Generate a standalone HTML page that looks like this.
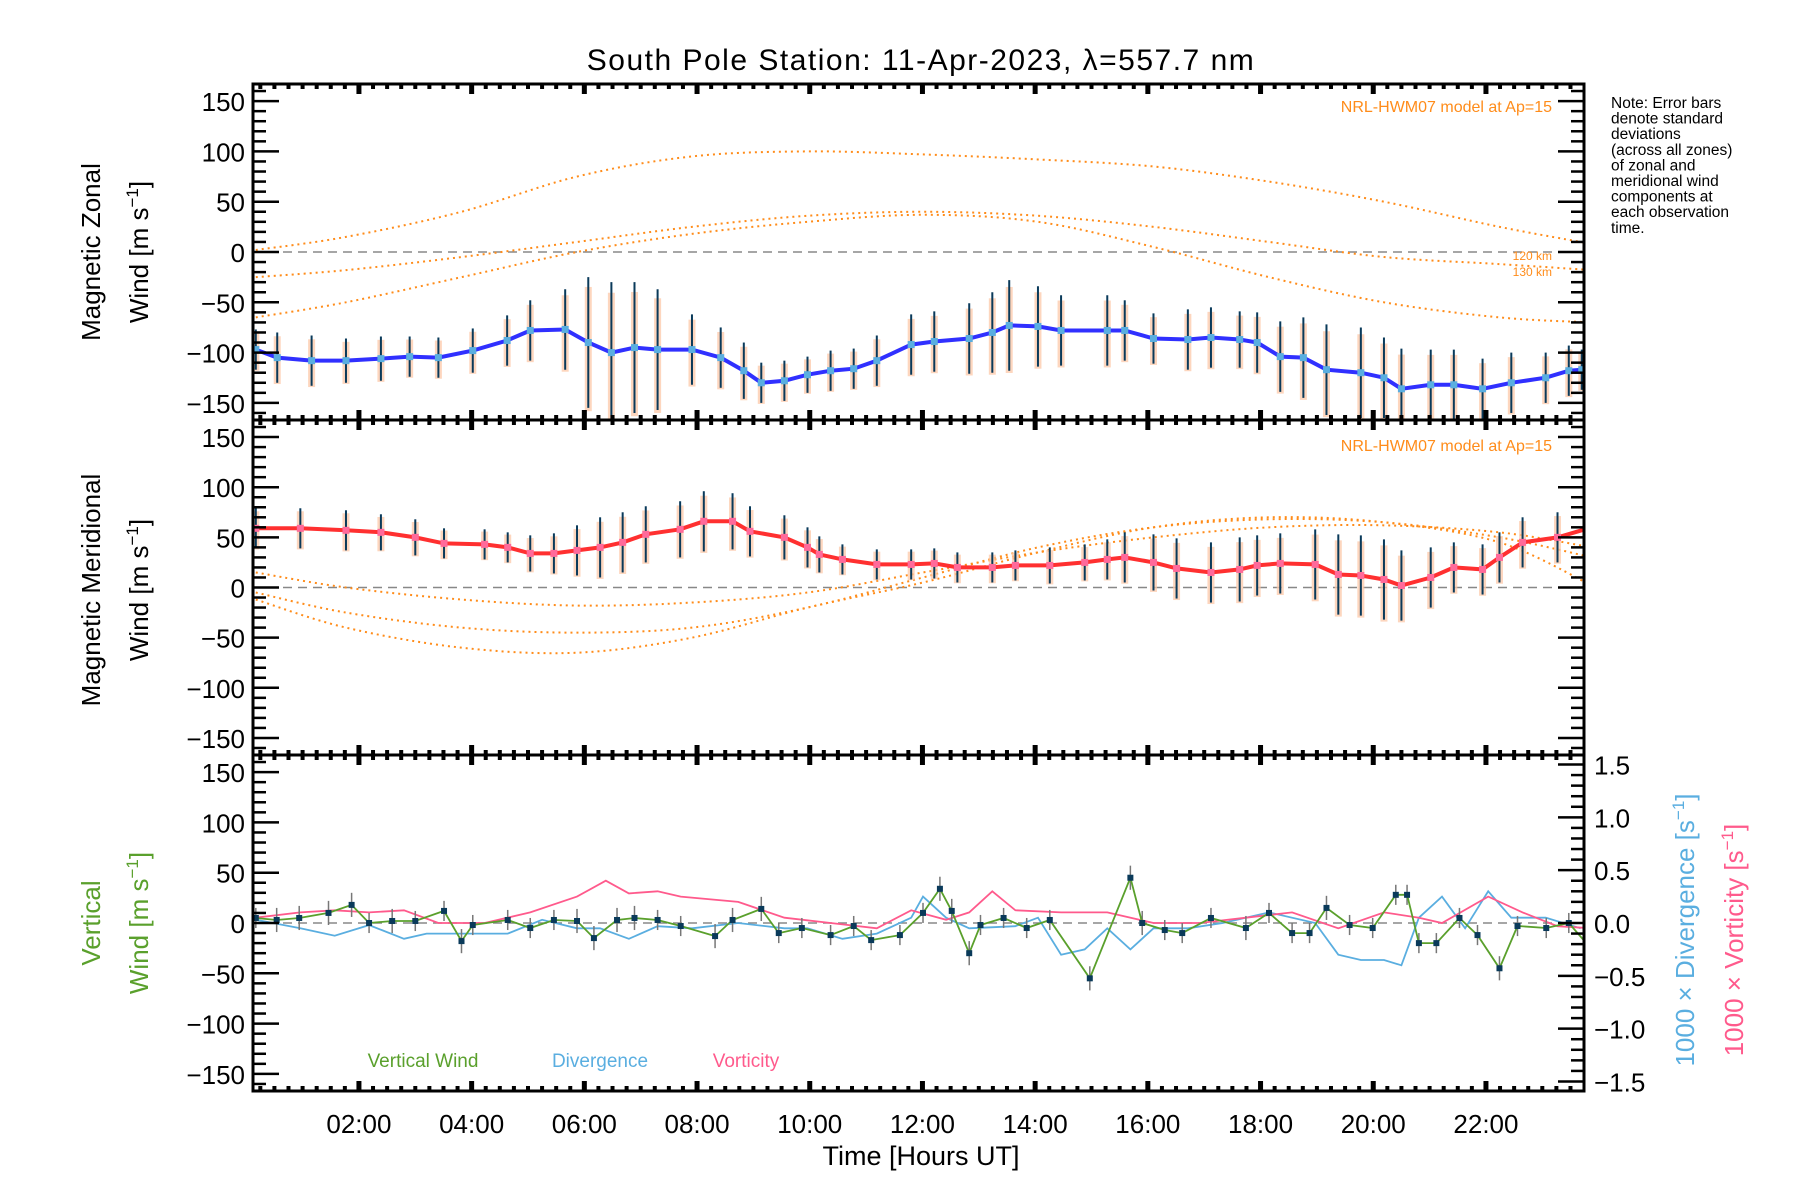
<!DOCTYPE html>
<html><head><meta charset="utf-8"><style>
html,body{margin:0;padding:0;background:#fff;}
svg{display:block;font-family:"Liberation Sans",sans-serif;}
</style></head><body>
<svg id="chart" width="1800" height="1200" viewBox="0 0 1800 1200" xmlns="http://www.w3.org/2000/svg">
<defs><clipPath id="plotclip"><rect x="253" y="84" width="1331" height="1007"/></clipPath></defs>
<text x="921" y="70" font-size="30" text-anchor="middle" letter-spacing="1.5">South Pole Station: 11-Apr-2023, λ=557.7 nm</text>
<g id="data" clip-path="url(#plotclip)"></g>
<g id="layer"></g>
</svg>
<script>
// ---- data (times in hours UT) ----
const zonalTimes=[0.17,0.55,1.16,1.77,2.39,2.9,3.41,4.02,4.63,5.04,5.66,6.07,6.48,6.89,7.3,7.91,8.42,8.83,9.14,9.55,9.96,10.37,10.78,11.19,11.8,12.21,12.83,13.24,13.54,14.05,14.46,15.28,15.59,16.1,16.71,17.12,17.63,17.94,18.35,18.76,19.17,19.78,20.19,20.5,21.02,21.43,21.94,22.45,23.06,23.47,23.7];
const zonalValues=[-97,-105,-108,-108,-106,-104,-105,-98,-88,-78,-77,-90,-100,-95,-97,-97,-105,-118,-130,-128,-122,-118,-116,-108,-92,-89,-86,-80,-73,-74,-78,-78,-78,-86,-87,-85,-87,-90,-104,-105,-117,-120,-125,-136,-132,-132,-136,-130,-125,-118,-117];
const zonalStd=[20,25,25,22,22,20,20,22,25,30,40,65,70,65,60,35,30,28,20,20,18,20,20,25,30,30,35,40,45,40,35,35,30,25,30,30,28,30,35,40,45,45,40,40,35,35,30,30,25,25,20];
const meridTimes=[0.17,0.96,1.77,2.39,3.0,3.51,4.23,4.64,5.04,5.46,5.87,6.28,6.68,7.09,7.7,8.12,8.63,8.94,9.55,9.96,10.17,10.58,11.19,11.8,12.21,12.62,13.24,13.65,14.26,14.88,15.28,15.59,16.1,16.51,17.12,17.63,17.94,18.35,18.97,19.38,19.78,20.19,20.5,21.02,21.43,21.94,22.24,22.65,23.27,23.88];
const meridValues=[59,59,57,55,50,44,43,40,34,34,37,40,45,53,58,66,66,56,50,40,33,28,23,23,24,20,20,22,22,25,28,30,25,19,15,18,22,24,23,13,12,8,2,10,20,18,30,45,50,60];
const meridStd=[20,20,20,18,18,15,15,15,18,20,25,30,30,28,28,30,28,25,22,20,18,15,15,15,15,15,15,15,18,18,20,25,28,30,30,32,30,30,35,40,40,40,35,30,25,25,25,25,25,25];
const vertTimes=[0.17,0.54,0.94,1.46,1.87,2.18,2.59,3.0,3.51,3.82,4.02,4.64,5.04,5.46,5.87,6.17,6.58,6.89,7.3,7.71,8.32,8.63,9.14,9.45,9.86,10.37,10.78,11.09,11.6,12.01,12.31,12.52,12.83,13.03,13.44,13.85,14.26,14.97,15.69,15.9,16.3,16.61,17.12,17.74,18.15,18.56,18.87,19.17,19.58,19.99,20.4,20.6,20.81,21.12,21.53,21.85,22.24,22.56,23.07,23.47,23.78];
const vertValues=[5,3,5,10,18,0,2,2,12,-18,-2,3,-5,3,2,-15,3,5,3,-3,-13,3,14,-10,-5,-12,-3,-17,-12,10,34,12,-30,-2,5,-5,3,-55,45,0,-7,-10,5,-5,10,-10,-10,15,-2,-5,28,28,-20,-20,5,-12,-45,-3,-5,0,-20];
const vertStd=[10,12,12,12,12,10,12,10,10,12,10,10,10,10,12,12,12,12,10,10,12,12,12,10,10,10,10,10,10,10,12,12,12,10,10,10,10,12,12,12,10,10,10,12,10,10,10,12,10,10,10,10,10,10,10,10,12,10,10,10,12];
const divTimes=[0.17,0.96,1.57,2.18,2.8,3.2,3.82,4.64,5.25,5.87,6.28,6.79,7.3,7.91,8.73,9.55,9.96,10.58,11.19,11.8,12.01,12.42,12.83,13.65,14.05,14.46,14.88,15.28,15.69,16.1,16.71,17.33,18.15,18.97,19.38,19.78,20.19,20.5,20.81,21.22,21.63,22.04,22.45,23.06,23.68];
const divValues=[0.03,-0.05,-0.12,-0.02,-0.15,-0.10,-0.10,-0.10,0.03,-0.05,-0.05,-0.15,-0.03,-0.05,0.0,-0.05,-0.05,-0.15,-0.10,0.05,0.25,0.05,-0.05,-0.03,0.05,-0.30,-0.25,-0.05,-0.25,-0.05,-0.05,0.0,0.10,0.0,-0.30,-0.35,-0.35,-0.40,0.05,0.25,-0.05,0.30,0.05,0.05,-0.05];
const vortTimes=[0.17,0.96,1.57,2.18,2.8,3.41,4.23,5.04,5.87,6.38,6.79,7.3,7.71,8.73,9.55,10.37,11.19,11.8,12.42,12.83,13.24,13.65,14.46,15.28,16.1,16.92,17.74,18.56,19.38,20.19,20.81,21.22,22.04,22.65,23.27,23.88];
const vortValues=[0.05,0.10,0.12,0.10,0.12,0.0,0.0,0.10,0.25,0.40,0.28,0.30,0.25,0.20,0.05,0.0,-0.05,0.12,0.03,0.10,0.30,0.12,0.10,0.10,0.0,0.0,0.05,0.10,-0.05,0.10,0.05,0.0,0.25,0.10,-0.03,-0.05];
const modelTimes=[0.17,1.77,3.82,5.87,7.91,9.96,12.01,14.05,16.1,18.15,20.19,22.24,23.88];
const zonalModelA=[2,15,40,75,95,100,97,92,85,70,50,25,8];
const zonalModelB=[-25,-18,-5,10,25,36,40,36,25,10,-5,-12,-18];
const zonalModelC=[-65,-50,-25,0,18,30,37,30,5,-25,-50,-65,-70];
const meridModelA=[15,0,-12,-18,-15,-5,15,35,50,60,62,55,40];
const meridModelB=[-5,-25,-40,-45,-40,-20,10,40,60,68,65,50,30];
const meridModelC=[-12,-40,-60,-65,-50,-20,5,35,60,70,65,45,2];
const yTicksLeft=[-150,-100,-50,0,50,100,150];
const yTicksRight=[-1.5,-1.0,-0.5,0.0,0.5,1.0,1.5];
const xTickLabels=["02:00","04:00","06:00","08:00","10:00","12:00","14:00","16:00","18:00","20:00","22:00"];

// ---- layout ----
const L=253,R=1584,T0=0.12,T1=23.74;
const panels=[[84,420],[420,755],[755,1091]];
const YMIN=-167,YMAX=167, RMAX=1.59;
const NS="http://www.w3.org/2000/svg";
const layer=document.getElementById('layer');
const dataLayer=document.getElementById('data');
function xs(t){return L+(t-T0)/(T1-T0)*(R-L);}
function ys(p,v){const [a,b]=panels[p];return b-(v-YMIN)/(YMAX-YMIN)*(b-a);}
function yr(v){const [a,b]=panels[2];return (a+b)/2-v/RMAX*(b-a)/2;}
function mk(tag,attrs,parent){const e=document.createElementNS(NS,tag);for(const k in attrs)e.setAttribute(k,attrs[k]);(parent||layer).appendChild(e);return e;}
function poly(pts,attrs){return mk('polyline',Object.assign({points:pts.map(p=>p[0].toFixed(1)+','+p[1].toFixed(1)).join(' '),fill:'none'},attrs),dataLayer);}
function smooth(pts){let d='M'+pts[0][0]+','+pts[0][1];for(let i=0;i<pts.length-1;i++){const p0=pts[i-1]||pts[i],p1=pts[i],p2=pts[i+1],p3=pts[i+2]||p2;
 const c1=[p1[0]+(p2[0]-p0[0])/6,p1[1]+(p2[1]-p0[1])/6],c2=[p2[0]-(p3[0]-p1[0])/6,p2[1]-(p3[1]-p1[1])/6];
 d+=' C'+c1.join(',')+' '+c2.join(',')+' '+p2.join(',');}return d;}
function txt(x,y,s,attrs){const e=mk('text',Object.assign({x:x,y:y},attrs));e.textContent=s;return e;}

for(let p=0;p<3;p++){
  const z=mk('line',{x1:L,x2:R,y1:ys(p,0),y2:ys(p,0),stroke:'#888','stroke-width':1.5,'stroke-dasharray':'9,6'},dataLayer);
  
  
}
function model(p,arr,name){
  const e=mk('path',{d:smooth(modelTimes.map((t,i)=>[xs(t),ys(p,arr[i])])),fill:'none',stroke:'#ff8c1a','stroke-width':2,'stroke-dasharray':'2,4'},dataLayer);
  
  
}
model(0,zonalModelA,'zonal-model-a');model(0,zonalModelB,'zonal-model-b');model(0,zonalModelC,'zonal-model-c');
model(1,meridModelA,'merid-model-a');model(1,meridModelB,'merid-model-b');model(1,meridModelC,'merid-model-c');

function series(p,times,vals,std,color,name){
  const [a,b]=panels[p];
  times.forEach((t,i)=>{
    const x=xs(t);
    const y1=Math.max(a,ys(p,vals[i]+std[i]*0.85)), y2=Math.min(b,ys(p,vals[i]-std[i]*1.05));
    const band=mk('rect',{x:x-3.5,y:y1,width:7,height:Math.max(0,y2-y1),fill:'#fcc8a8',opacity:0.75},dataLayer);
    
    
    const eb=mk('line',{x1:x,x2:x,y1:Math.max(a,ys(p,vals[i]+std[i])),y2:Math.min(b,ys(p,vals[i]-std[i])),stroke:'#0a3a5a','stroke-width':2},dataLayer);
    
    
  });
  const ln=poly(times.map((t,i)=>[xs(t),ys(p,vals[i])]),{stroke:color,'stroke-width':4});
  
  
  times.forEach((t,i)=>{
    const m=mk('rect',{x:xs(t)-3.5,y:ys(p,vals[i])-3.5,width:7,height:7,fill:p==0?'#5aaee0':'#ff6a9a'},dataLayer);
    
    
  });
}
series(0,zonalTimes,zonalValues,zonalStd,'#3030ff','zonal-wind');
series(1,meridTimes,meridValues,meridStd,'#ff3030','meridional-wind');

const dl=poly(divTimes.map((t,i)=>[xs(t),yr(divValues[i])]),{stroke:'#5aaee0','stroke-width':1.8});


const vl=poly(vortTimes.map((t,i)=>[xs(t),yr(vortValues[i])]),{stroke:'#ff5a8c','stroke-width':1.8});


vertTimes.forEach((t,i)=>{
  const e=mk('line',{x1:xs(t),x2:xs(t),y1:ys(2,vertValues[i]+vertStd[i]),y2:ys(2,vertValues[i]-vertStd[i]),stroke:'#777','stroke-width':1.5},dataLayer);
  
  
});
const gl=poly(vertTimes.map((t,i)=>[xs(t),ys(2,vertValues[i])]),{stroke:'#5aa02c','stroke-width':1.8});


vertTimes.forEach((t,i)=>{
  const m=mk('rect',{x:xs(t)-3,y:ys(2,vertValues[i])-3,width:6,height:6,fill:'#0a3a5a'},dataLayer);
  
  
});

for(let p=0;p<3;p++){
  const [a,b]=panels[p];
  const f=mk('rect',{x:L,y:a,width:R-L,height:b-a,fill:'none',stroke:'#000','stroke-width':3});
  
  
  for(let v=-160;v<=160;v+=10){
    const y=ys(p,v);const maj=v%50===0;const len=maj?26:13;
    mk('line',{x1:L,x2:L+len,y1:y,y2:y,stroke:'#000','stroke-width':2.5});
    if(p<2) mk('line',{x1:R,x2:R-len,y1:y,y2:y,stroke:'#000','stroke-width':2.5});
  }
  yTicksLeft.forEach(v=>{
    const t=txt(L-8,ys(p,v)+10,(v<0?'\u2212'+(-v):String(v)),{'font-size':26,'text-anchor':'end'});
    
    
  });
  for(let h=0.25;h<24;h+=0.25){
    const x=xs(h);if(x<L||x>R)continue;const maj=Math.abs(h/2-Math.round(h/2))<1e-6;const len=maj?10:5;
    mk('line',{x1:x,x2:x,y1:a,y2:a+len,stroke:'#000','stroke-width':maj?5:4});
    mk('line',{x1:x,x2:x,y1:b,y2:b-len,stroke:'#000','stroke-width':maj?5:4});
  }
}
for(let k=-15;k<=15;k++){
  const v=k/10;const y=yr(v);const maj=k%5===0;const len=maj?26:13;
  mk('line',{x1:R,x2:R-len,y1:y,y2:y,stroke:'#000','stroke-width':2.5});
}
yTicksRight.forEach(v=>{
  const t=txt(1594,yr(v)+10,(v<0?'\u2212':'')+Math.abs(v).toFixed(1),{'font-size':26});
  
  
});
xTickLabels.forEach((s,i)=>{
  const t=txt(xs(2+2*i),1133,s,{'font-size':26,'text-anchor':'middle'});
  
  
});

function vlabel(x,y,s,color,name,size){
  const t=txt(x,y,'',{'font-size':size||26,'text-anchor':'middle',fill:color,transform:'rotate(-90 '+x+' '+y+')'});
  t.innerHTML=s;
  
  
}
const sup='m s<tspan dy="-10" font-size="17">\u22121</tspan><tspan dy="10">]</tspan>';
vlabel(100,252,'Magnetic Zonal','#000','zonal-y-title');
vlabel(148,252,'Wind ['+sup,'#000','zonal-y-title-units');
vlabel(100,590,'Magnetic Meridional','#000','meridional-y-title');
vlabel(148,590,'Wind ['+sup,'#000','meridional-y-title-units');
vlabel(100,923,'Vertical','#5aa02c','vertical-y-title');
vlabel(148,923,'Wind ['+sup,'#5aa02c','vertical-y-title-units');
vlabel(1694,930,'1000 × Divergence [s<tspan dy="-10" font-size="17">\u22121</tspan><tspan dy="10">]</tspan>','#5aaee0','divergence-y-title');
vlabel(1743,940,'1000 × Vorticity [s<tspan dy="-10" font-size="17">\u22121</tspan><tspan dy="10">]</tspan>','#ff5a8c','vorticity-y-title');
const xl=txt(921,1165,'Time [Hours UT]',{'font-size':27,'text-anchor':'middle'});



[112,451].forEach((y,i)=>{
  const t=txt(1552,y,'NRL-HWM07 model at Ap=15',{'font-size':16,'text-anchor':'end',fill:'#ff8c1a'});
  
  
});
[['120 km',260],['130 km',276]].forEach(([s,y])=>{
  const t=txt(1552,y,s,{'font-size':12,'text-anchor':'end',fill:'#ff8c1a'});
  
  
});
const note=["Note: Error bars","denote standard","deviations","(across all zones)","of zonal and","meridional wind","components at","each observation","time."];
note.forEach((s,i)=>{
  const t=txt(1611,108+i*15.6,s,{'font-size':15.5});
  
  
});
[['Vertical Wind',423,'#5aa02c'],['Divergence',600,'#5aaee0'],['Vorticity',746,'#ff5a8c']].forEach(([s,x,c])=>{
  const t=txt(x,1067,s,{'font-size':19,'text-anchor':'middle',fill:c});
  
  
});
</script>
</body></html>
